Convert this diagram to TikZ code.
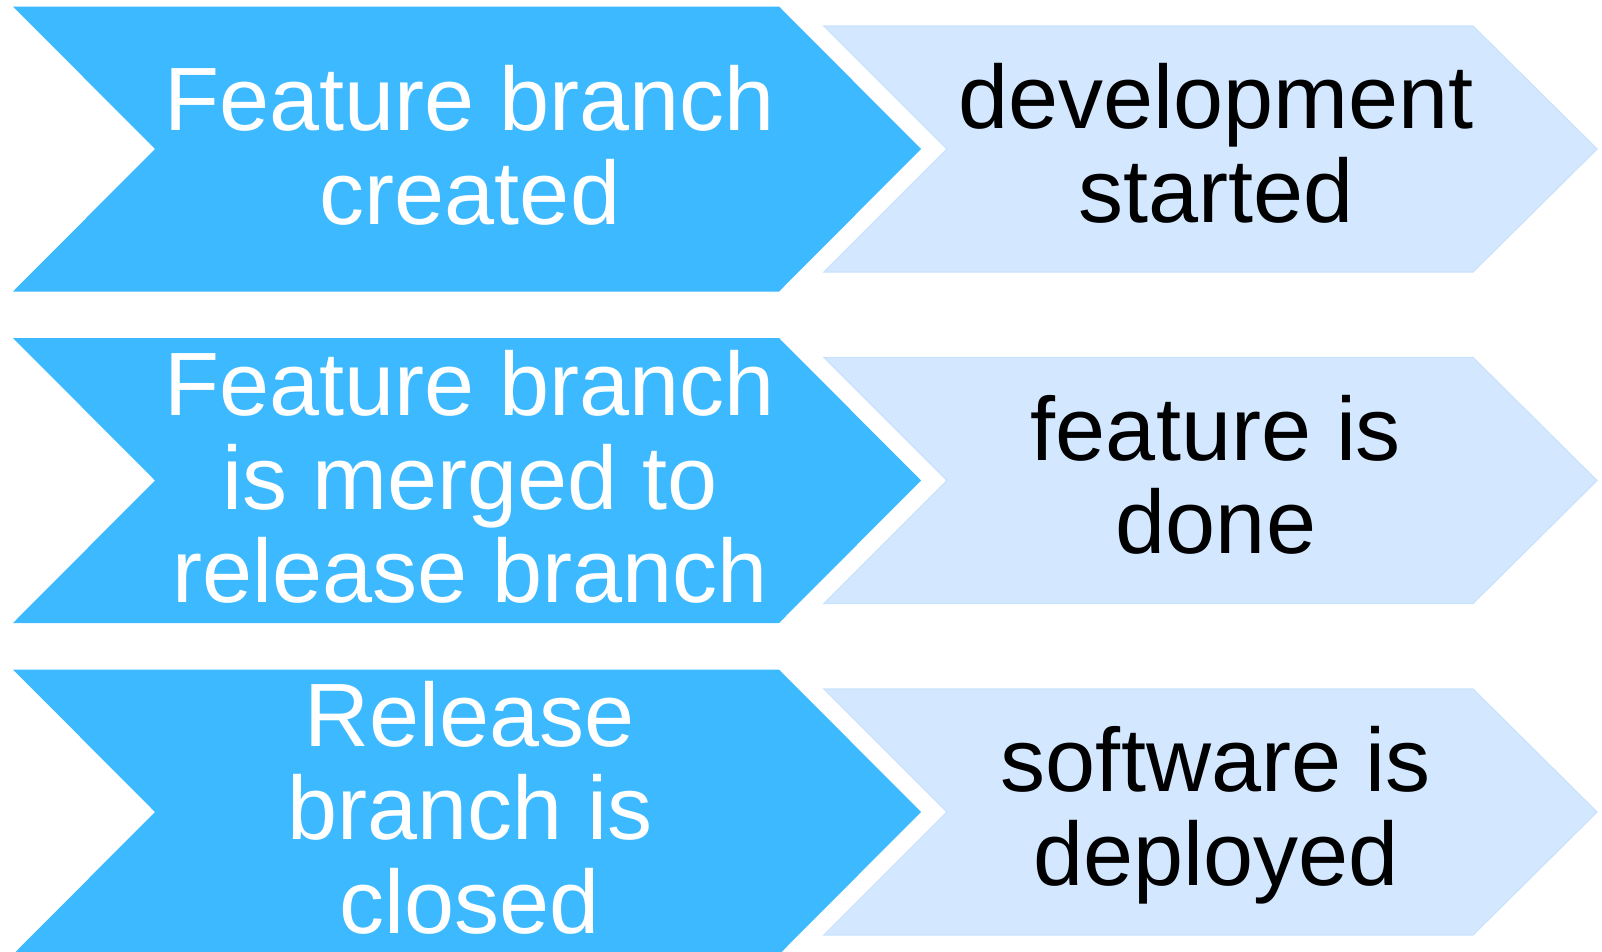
\documentclass[tikz,border=0pt]{standalone}
\usepackage{fontspec}
\setmainfont{Liberation Sans}
\definecolor{darkblue}{RGB}{61,185,255}
\definecolor{lightblue}{RGB}{211,232,255}
\definecolor{lightedge}{RGB}{202,226,252}
\begin{document}
\begin{tikzpicture}[x=1pt,y=-1pt,
  darkchev/.style={fill=darkblue},
  lightchev/.style={fill=lightblue,draw=lightedge,line width=1.2pt},
  darktext/.style={text=white,align=center,anchor=base,inner sep=0pt,font=\fontsize{90}{93.4}\selectfont},
  lighttext/.style={text=black,align=center,anchor=base,inner sep=0pt,font=\fontsize{90}{93.4}\selectfont}]
\useasboundingbox (0,0) rectangle (1602,951);
\clip (0,0) rectangle (1602,951);
\foreach \cy in {149,480.5,812}{
  \fill[darkchev] (13,\cy-142.5) -- (779,\cy-142.5) -- (921,\cy) -- (779,\cy+142.5) -- (13,\cy+142.5) -- (155,\cy) -- cycle;
  \filldraw[lightchev] (824,\cy-123) -- (1473,\cy-123) -- (1597,\cy) -- (1473,\cy+123) -- (824,\cy+123) -- (947,\cy) -- cycle;
}
\node[darktext] (d1) at (470,224) {Feature branch\\created};
\node[lighttext] (l1) at (1216,222.3) {development\\started};
\node[darktext] (d2) at (470,602.7) {Feature branch\\is merged to\\release branch};
\node[lighttext] (l2) at (1216,553.5) {feature is\\done};
\node[darktext] (d3) at (470,933.3) {Release\\branch is\\closed};
\node[lighttext] (l3) at (1216,885) {software is\\deployed};
\end{tikzpicture}
\end{document}
